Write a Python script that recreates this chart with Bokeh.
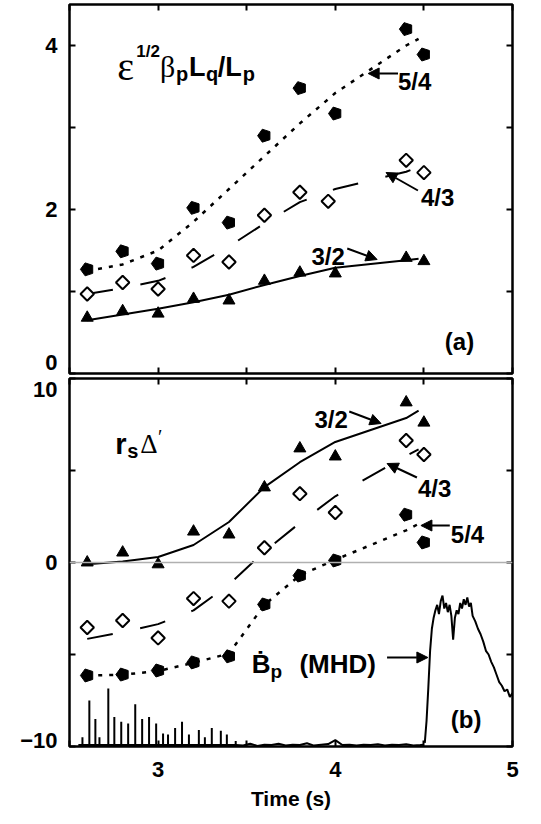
import math
from bokeh.plotting import figure
from bokeh.models import (Label, Arrow, NormalHead, LinearAxis, FixedTicker, Range1d, Span,
                          CustomLabelingPolicy)
from bokeh.layouts import column
from bokeh.embed import file_html
from bokeh.resources import INLINE

# ---------------- data ----------------
t_obs = [2.6, 2.8, 3.0, 3.2, 3.4, 3.6, 3.8, 4.0, 4.4, 4.5]
t_obs_43 = [2.6, 2.8, 3.0, 3.2, 3.4, 3.6, 3.8, 3.96, 4.4, 4.5]
t_fit = [2.6, 2.8, 3.0, 3.2, 3.4, 3.6, 3.8, 4.0, 4.4, 4.47]

# (a) eps^1/2 beta_p Lq/Lp
a_54 = [1.27, 1.49, 1.34, 2.02, 1.84, 2.90, 3.48, 3.17, 4.20, 3.89]
a_43 = [0.97, 1.11, 1.03, 1.44, 1.36, 1.93, 2.21, 2.10, 2.60, 2.45]
a_32 = [0.68, 0.76, 0.73, 0.91, 0.89, 1.13, 1.23, 1.22, 1.41, 1.37]
a_fit_54 = [1.25, 1.33, 1.50, 1.85, 2.25, 2.65, 3.05, 3.42, 4.00, 4.08]
a_fit_43 = [0.97, 1.04, 1.13, 1.30, 1.55, 1.83, 2.09, 2.25, 2.46, 2.52]
a_fit_32 = [0.65, 0.72, 0.79, 0.87, 0.96, 1.08, 1.19, 1.29, 1.38, 1.40]

# (b) r_s Delta'
t_obs_b = [2.6, 2.8, 3.0, 3.2, 3.4, 3.6, 3.8, 4.0, 4.4, 4.5]
b_32 = [0.0, 0.54, -0.1, 1.68, 1.52, 4.08, 6.2, 5.76, 8.7, 7.6]
b_43 = [-3.53, -3.15, -4.1, -1.96, -2.1, 0.8, 3.74, 2.72, 6.63, 5.87]
b_54 = [-6.14, -6.09, -5.87, -5.43, -5.1, -2.28, -0.71, 0.11, 2.6, 1.09]
b_fit_32 = [-0.1, 0.05, 0.3, 0.95, 2.2, 4.1, 5.45, 6.55, 7.85, 8.25]
b_fit_43 = [-4.15, -3.78, -3.35, -2.6, -1.2, 0.6, 2.15, 3.6, 5.8, 6.15]
b_fit_54 = [-6.15, -6.1, -5.9, -5.45, -4.95, -2.3, -0.7, 0.15, 1.75, 2.1]

# B_p dot (MHD) trace
bp_base = -9.92
spike_t = [2.573, 2.612, 2.646, 2.669, 2.719, 2.753, 2.792, 2.831, 2.871, 2.910, 2.949, 2.989,
           3.028, 3.056, 3.096, 3.135, 3.174, 3.230, 3.264, 3.303, 3.354, 3.388, 3.438]
spike_v = [-9.5, -7.5, -8.5, -9.5, -6.85, -8.4, -8.65, -8.75, -7.7, -8.5, -8.4, -8.75,
           -9.3, -9.35, -9.0, -8.65, -9.35, -9.1, -9.5, -9.0, -9.15, -9.35, -9.7]
flat_t = [2.55, 3.44, 3.48, 3.52, 3.56, 3.60, 3.64, 3.68, 3.72, 3.76, 3.80, 3.84, 3.88, 3.92,
          3.96, 4.00, 4.04, 4.08, 4.12, 4.16, 4.20, 4.24, 4.28, 4.32, 4.36, 4.40, 4.44, 4.48, 4.50]
flat_v = [-9.92, -9.92, -9.95, -9.85, -9.97, -9.9, -9.92, -9.85, -9.95, -9.9, -9.92, -9.82, -9.95,
          -9.9, -9.87, -9.65, -9.92, -9.9, -9.95, -9.9, -9.92, -9.88, -9.95, -9.9, -9.92, -9.88,
          -9.95, -9.92, -9.9]
mhd_t = [4.505, 4.515, 4.525, 4.535, 4.545, 4.555, 4.565, 4.575, 4.585, 4.595, 4.605, 4.615,
         4.625, 4.635, 4.645, 4.655, 4.665, 4.675, 4.685, 4.695, 4.705, 4.715, 4.725, 4.735,
         4.745, 4.755, 4.765, 4.775, 4.79, 4.805, 4.82, 4.835, 4.85, 4.865, 4.88, 4.895,
         4.91, 4.925, 4.94, 4.955, 4.97, 4.985, 5.0]
mhd_v = [-9.8, -8.6, -6.8, -4.8, -3.6, -3.0, -2.6, -2.3, -2.8, -2.1, -1.8, -2.5,
         -2.2, -2.7, -2.3, -2.9, -4.2, -3.0, -2.6, -2.8, -2.2, -2.5, -2.0, -2.3,
         -1.9, -2.4, -2.2, -2.9, -3.2, -3.6, -3.9, -4.3, -4.8, -5.0, -5.4, -5.7,
         -6.1, -6.5, -6.7, -7.0, -6.9, -7.3, -7.1]

# ticks (marks) and tick labels
x_ticks = [2.5, 3.0, 3.5, 4.0, 4.5, 5.0]
x_label_pos = [3.0, 4.0, 5.0]
x_label_txt = ["3", "4", "5"]
ya_ticks = [0, 1, 2, 3, 4]
ya_label_pos = [0.134, 2, 4]
ya_label_txt = ["0", "2", "4"]
yb_ticks = [-10, -5, 0, 5, 10]
yb_label_pos = [-9.67, 0, 9.4]
yb_label_txt = ["\u221210", "0", "10"]

# ---------------- layout ----------------
FONT = "Liberation Sans"
SERIF = "Liberation Serif"
L, R = 69, 512
T1, B1 = 4, 373
T2, B2 = 378, 746

HIDE_ALL = "for (let i = 0; i < indices.size; i++) { indices.unset(i) }\nreturn indices"


def xd(X):
    return 3 + (X - 157) / 178.0


def ya(Y):
    return (373 - Y) / 82.0


def yb(Y):
    return (562 - Y) / 18.4


def tick_axis(ax, ticks):
    ax.ticker = FixedTicker(ticks=ticks)
    ax.major_tick_in = 6
    ax.major_tick_out = 0
    ax.minor_tick_in = 0
    ax.minor_tick_out = 0
    ax.major_tick_line_width = 2
    ax.major_tick_line_color = "black"
    ax.axis_line_color = None
    ax.major_label_text_font_size = "0px"
    ax.major_label_standoff = 0
    ax.major_label_policy = CustomLabelingPolicy(code=HIDE_ALL)


def label_axis(ax, pos, txt, standoff):
    ax.ticker = FixedTicker(ticks=pos)
    ax.major_label_overrides = {float(t): s for t, s in zip(pos, txt)}
    ax.major_tick_in = 0
    ax.major_tick_out = 0
    ax.minor_tick_in = 0
    ax.minor_tick_out = 0
    ax.major_tick_line_color = None
    ax.axis_line_color = None
    ax.major_label_text_font = FONT
    ax.major_label_text_font_style = "bold"
    ax.major_label_text_color = "black"
    ax.major_label_text_font_size = "22px"
    ax.major_label_standoff = standoff


def make_fig(y0, y1, fh, top_border, bottom_border):
    p = figure(frame_width=R - L, frame_height=fh, x_range=Range1d(2.5, 5.0),
               y_range=Range1d(y0, y1), output_backend="svg", toolbar_location=None,
               min_border_left=L, min_border_right=20, min_border_top=top_border,
               min_border_bottom=bottom_border)
    p.outline_line_color = "black"
    p.outline_line_width = 2.5
    p.outline_line_alpha = 1
    p.grid.visible = False
    p.background_fill_color = "white"
    p.border_fill_color = "white"
    p.add_layout(LinearAxis(), "right")
    p.add_layout(LinearAxis(), "above")
    p.add_layout(LinearAxis(), "left")   # outer left axis: labels only
    return p


def pentagons(p, x, y):
    try:
        p.ngon(x=x, y=y, radius=6.8, radius_units="screen", n=5, angle=math.pi / 2,
               fill_color="black", line_color="black")
    except Exception:
        p.scatter(x=x, y=y, marker="hex", size=12, fill_color="black", line_color="black")


def diamonds(p, x, y):
    p.scatter(x, y, marker="square", size=9.5, angle=math.pi / 4, fill_color="white",
              line_color="black", line_width=2)


def lab(p, x, y, text, size, font=FONT, bold=True, align="left"):
    p.add_layout(Label(x=x, y=y, text=text, text_font=font, text_font_size=f"{size}px",
                       text_font_style="bold" if bold else "normal", text_color="black",
                       text_align=align, text_baseline="alphabetic"))


def arrow(p, x0, y0, x1, y1):
    p.add_layout(Arrow(x_start=x0, y_start=y0, x_end=x1, y_end=y1, line_width=2,
                       line_color="black",
                       end=NormalHead(size=11, fill_color="black", line_color="black",
                                      line_width=1)))


# ---------- panel (a) ----------
pa = make_fig(0, 4.5, B1 - T1, T1, 3)
tick_axis(pa.left[0], ya_ticks)
label_axis(pa.left[1], ya_label_pos, ya_label_txt, 12)
tick_axis(pa.right[0], ya_ticks)
tick_axis(pa.above[0], x_ticks)
tick_axis(pa.below[0], x_ticks)

pa.line(t_fit, a_fit_54, line_color="black", line_width=2.5, line_dash="4 7")
pa.line(t_fit, a_fit_43, line_color="black", line_width=2, line_dash="26 28")
pa.line(t_fit, a_fit_32, line_color="black", line_width=2)
pentagons(pa, t_obs, a_54)
diamonds(pa, t_obs_43, a_43)
pa.scatter(t_obs, a_32, marker="triangle", size=12, fill_color="black", line_color="black")

# composite label eps^{1/2} beta_p L_q / L_p
lab(pa, xd(116), ya(66), "\u03b5", 40, font=SERIF, bold=False)
lab(pa, xd(135), ya(51), "1/2", 17)
lab(pa, xd(159), ya(66), "\u03b2", 30, font=SERIF, bold=False)
lab(pa, xd(175), ya(73), "p", 20)
lab(pa, xd(188), ya(66), "L", 27)
lab(pa, xd(205), ya(73), "q", 20)
lab(pa, xd(217), ya(66), "/L", 27)
lab(pa, xd(242), ya(73), "p", 20)

lab(pa, xd(398), ya(81), "5/4", 24)
arrow(pa, xd(398), ya(73), xd(368), ya(73))
lab(pa, xd(421), ya(197), "4/3", 24)
arrow(pa, xd(418), ya(190), xd(386), ya(172))
lab(pa, xd(311), ya(256), "3/2", 24)
arrow(pa, xd(347), ya(248), xd(377), ya(259))
lab(pa, xd(445), ya(341), "(a)", 24)

# ---------- panel (b) ----------
pb = make_fig(-10, 10, B2 - T2, T2 - B1 - 3, 60)
tick_axis(pb.left[0], yb_ticks)
label_axis(pb.left[1], yb_label_pos, yb_label_txt, 12)
tick_axis(pb.right[0], yb_ticks)
tick_axis(pb.above[0], x_ticks)
tick_axis(pb.below[0], x_ticks)
xl = LinearAxis()
pb.add_layout(xl, "below")
label_axis(xl, x_label_pos, x_label_txt, 15)
xl.axis_label = "Time (s)"
xl.axis_label_text_font = FONT
xl.axis_label_text_font_style = "bold"
xl.axis_label_text_font_size = "21px"
xl.axis_label_text_color = "black"
xl.axis_label_standoff = 7

pb.add_layout(Span(location=0, dimension="width", line_color="#b0b0b0", line_width=1.5))

pb.segment(x0=spike_t, y0=[bp_base] * len(spike_t), x1=spike_t, y1=spike_v,
           line_color="black", line_width=2)
pb.line(flat_t, flat_v, line_color="black", line_width=2)
pb.line(mhd_t, mhd_v, line_color="black", line_width=2)

pb.line(t_fit, b_fit_54, line_color="black", line_width=2.5, line_dash="4 7")
pb.line(t_fit, b_fit_43, line_color="black", line_width=2, line_dash="26 28")
pb.line(t_fit, b_fit_32, line_color="black", line_width=2)
pentagons(pb, t_obs_b, b_54)
diamonds(pb, t_obs_b, b_43)
pb.scatter(t_obs_b, b_32, marker="triangle", size=12, fill_color="black", line_color="black")

lab(pb, xd(114), yb(443), "r", 29)
lab(pb, xd(126), yb(450), "s", 20)
lab(pb, xd(139), yb(443), "\u0394", 27, font=SERIF, bold=False)
lab(pb, xd(157), yb(436), "\u2032", 20, font=SERIF, bold=False)

lab(pb, xd(314), yb(419), "3/2", 24)
arrow(pb, xd(349), yb(411), xd(381), yb(423))
lab(pb, xd(418), yb(488), "4/3", 24)
arrow(pb, xd(417), yb(477), xd(387), yb(463))
lab(pb, xd(451), yb(534), "5/4", 24)
arrow(pb, xd(450), yb(525), xd(421), yb(525))

lab(pb, xd(251), yb(663), "\u1e02", 26)
lab(pb, xd(270), yb(671), "p", 19)
lab(pb, xd(299), yb(663), "(MHD)", 26)
arrow(pb, xd(387), yb(657), xd(428), yb(657))
lab(pb, xd(451), yb(719), "(b)", 24)

layout = column(pa, pb, spacing=0)
open("out.html", "w").write(file_html(layout, INLINE))
